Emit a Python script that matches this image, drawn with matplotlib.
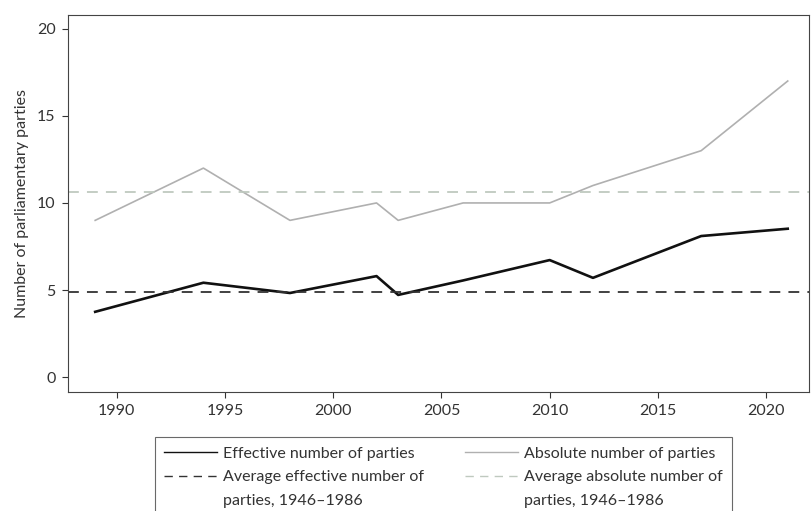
import matplotlib.pyplot as plt
from matplotlib.lines import Line2D

years = [1989, 1994, 1998, 2002, 2003, 2006, 2010, 2012, 2017, 2021]
effective = [3.75, 5.42, 4.83, 5.8, 4.72, 5.55, 6.72, 5.7, 8.1, 8.52]
absolute = [9, 12, 9, 10, 9, 10, 10, 11, 13, 17]
avg_effective = 4.9
avg_absolute = 10.65

plt.rcParams['font.family'] = ['Lato', 'DejaVu Sans']

fig = plt.figure(figsize=(8.11, 5.11), dpi=100)
ax = fig.add_axes([0.084, 0.233, 0.914, 0.738])

l1, = ax.plot(years, effective, color='#111111', lw=1.9)
l2, = ax.plot(years, absolute, color='#b0b0b0', lw=1.2)
l3 = ax.axhline(avg_effective, color='#333333', lw=1.3, ls=(0, (6, 4.5)))
l4 = ax.axhline(avg_absolute, color='#bfc9bf', lw=1.3, ls=(0, (6, 4.5)))

ax.set_xlim(1987.75, 2022.0)
ax.set_ylim(-0.85, 20.8)
ax.set_xticks([1990, 1995, 2000, 2005, 2010, 2015, 2020])
ax.set_yticks([0, 5, 10, 15, 20])
ax.tick_params(labelsize=11.5, labelcolor='#333333', color='#333333', length=4.5, pad=4.5)
ax.set_ylabel('Number of parliamentary parties', fontsize=11.5, color='#333333', labelpad=6)
for s in ax.spines.values():
    s.set_color('#444444')
    s.set_linewidth(0.8)

# blank handle so the second line of a label sits under the first one
blank = Line2D([], [], color='none')
handles = [l1, l3, blank, l2, l4, blank]
labels = ['Effective number of parties', 'Average effective number of', 'parties, 1946\u20131986',
          'Absolute number of parties', 'Average absolute number of', 'parties, 1946\u20131986']

leg = fig.legend(handles, labels,
                 loc='upper left', bbox_to_anchor=(0.191, 0.145), ncol=2,
                 fontsize=11.5, frameon=True, fancybox=False, edgecolor='#444444',
                 handlelength=3.3, columnspacing=2.6, labelspacing=0.6,
                 borderpad=0.6, handletextpad=0.35, borderaxespad=0)
leg.get_frame().set_linewidth(0.8)
for h in leg.get_lines():
    h.set_linewidth(1.0)
for t in leg.get_texts():
    t.set_color('#333333')

fig.savefig('out.png', dpi=100)
